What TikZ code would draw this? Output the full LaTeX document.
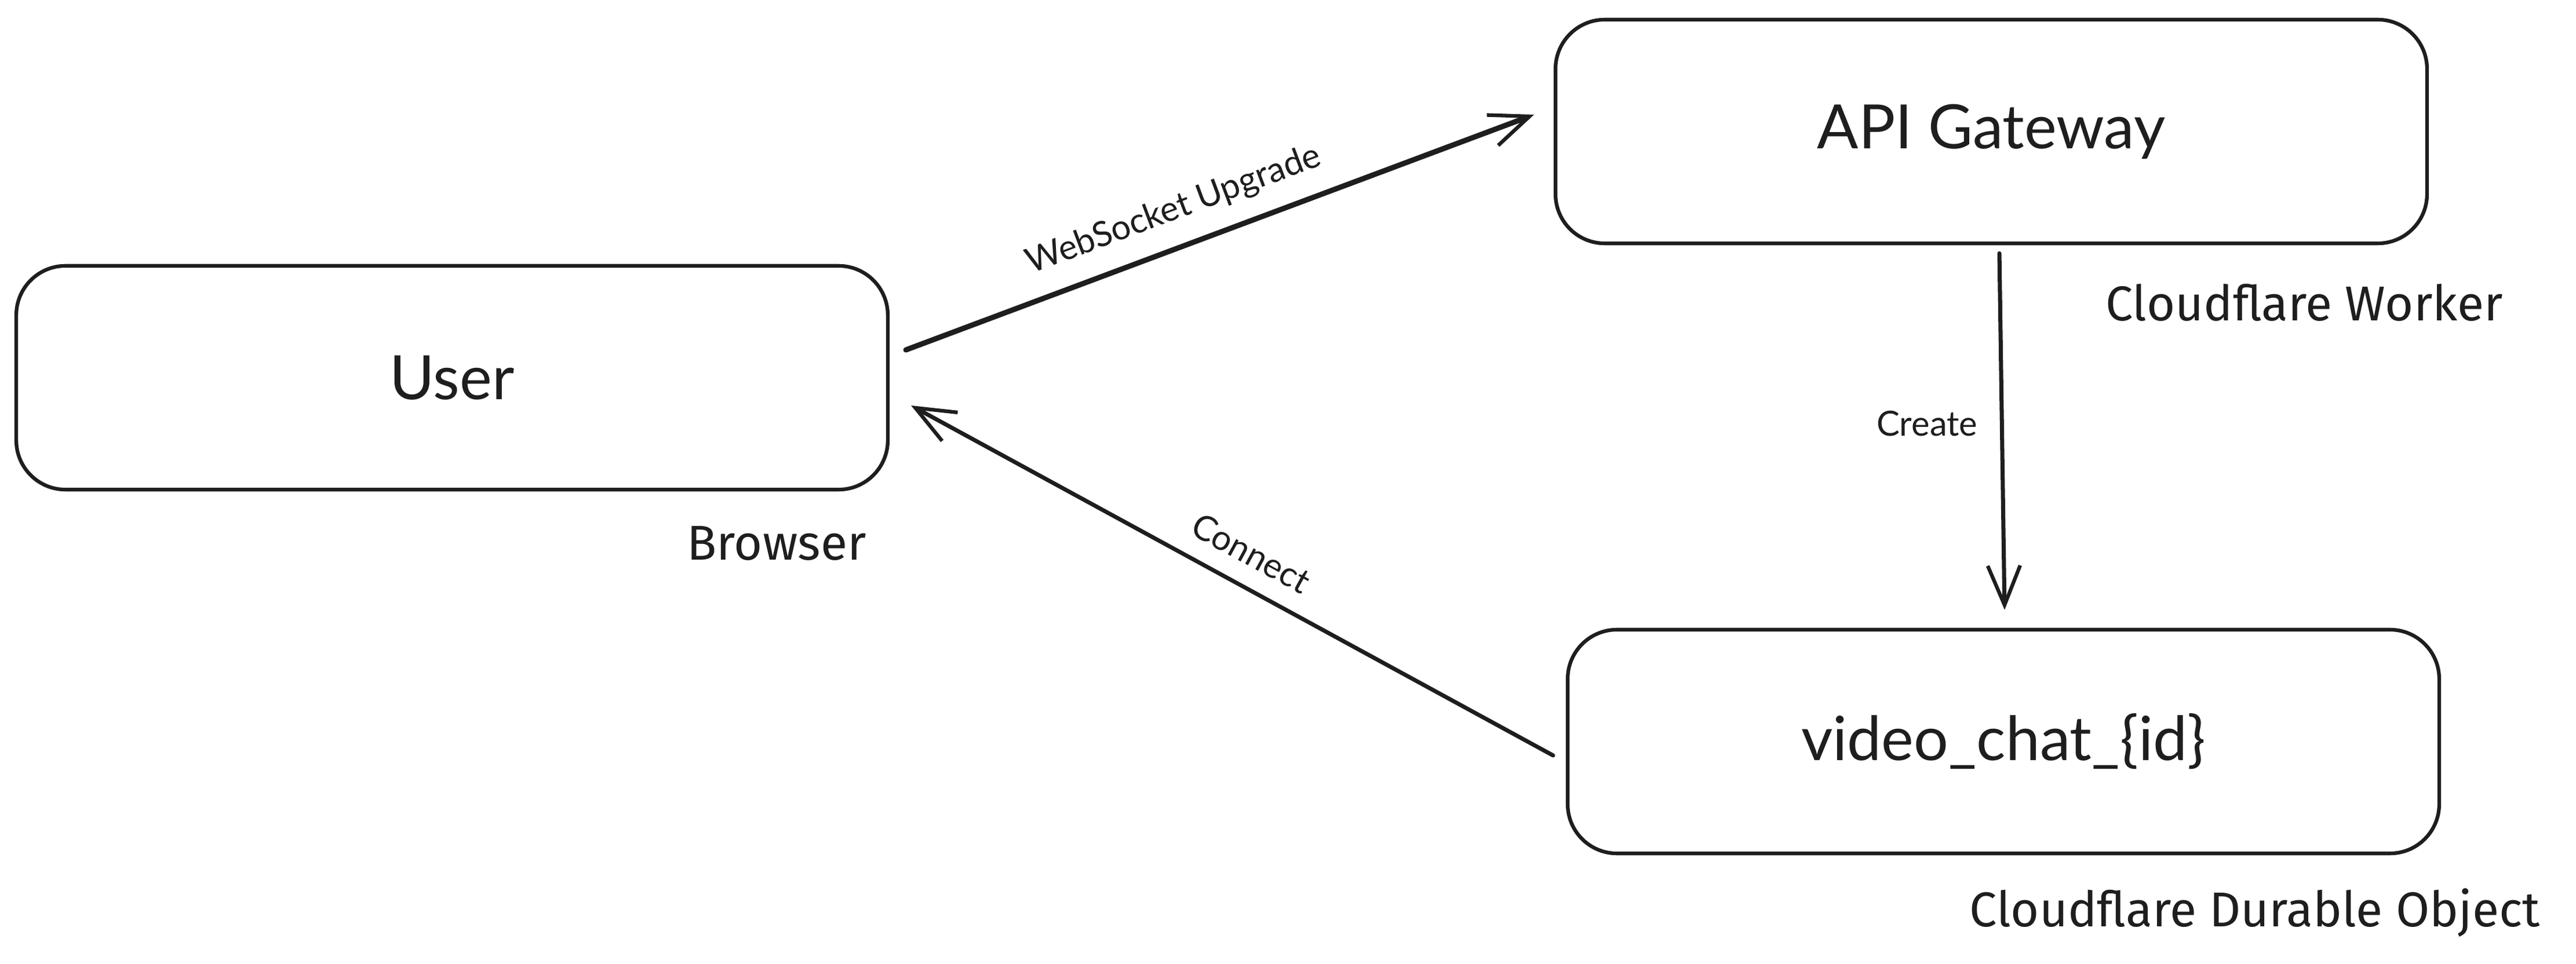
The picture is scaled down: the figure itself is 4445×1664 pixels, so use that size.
\documentclass[tikz,border=0pt]{standalone}
\usepackage{fontspec}
\setmainfont{Lato}
\newfontfamily\handfont{Fira Sans}
\usetikzlibrary{arrows.meta,calc}
\definecolor{ink}{HTML}{1E1E1E}
\begin{document}
\begin{tikzpicture}[x=0.01cm,y=-0.01cm,
  box/.style={draw=ink,line width=1.8pt,rounded corners=0.85cm,minimum width=15.03cm,minimum height=3.86cm,text=ink,font=\fontsize{30}{36}\selectfont},
  handlbl/.style={text=ink,font=\handfont\fontsize{24}{28}\selectfont},
  edgelbl/.style={text=ink,font=\fontsize{17}{20}\selectfont},
  conn/.style={draw=ink,line width=2.2pt,line cap=round,-{Straight Barb[length=0.68cm,width=0.56cm,line width=1.8pt]}}]
\useasboundingbox (0,0) rectangle (4445,1664);
\fill[white] (0,0) rectangle (4445,1664);

\node[box] (user) at (780,652) {User};
\node[box] (api) at (3436,227) {API Gateway};
\node[box] (vc) at (3457,1280) {video\_chat\_\{id\}};

\node[handlbl] (browser) at (1340,938) {Browser};
\node[handlbl] (worker) at (3976,522) {Cloudflare Worker};
\node[handlbl] (durable) at (3891,1576) {Cloudflare Durable Object};

\coordinate (wsS) at ($(user.east)+(28,-48)$);
\coordinate (wsE) at ($(api.west)+(-34,-29)$);
\coordinate (cnS) at ($(vc.west)+(-22,24)$);
\coordinate (cnE) at ($(user.east)+(37,48)$);
\coordinate (crS) at ($(api.south)+(14,14)$);
\coordinate (crE) at ($(vc.north)+(2,-31)$);

\draw[conn,line width=2.6pt] (wsS) -- node[edgelbl,sloped,above,pos=0.447,inner sep=9pt] (wslbl) {WebSocket Upgrade} (wsE);
\draw[conn,line width=2pt] (cnS) -- node[edgelbl,sloped,above,pos=0.495,inner sep=9pt] (cnlbl) {Connect} (cnE);
\draw[conn,line width=2pt] (crS) -- node[edgelbl,left,pos=0.478,inner sep=11pt] (crlbl) {Create} (crE);
\end{tikzpicture}
\end{document}
